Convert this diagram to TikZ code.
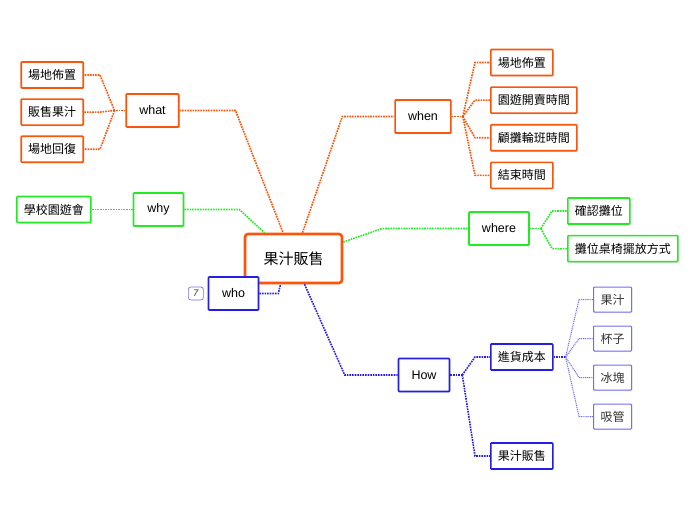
\documentclass[tikz,border=0pt]{standalone}
\usepackage{fontspec}
\setmainfont{Liberation Sans}
\newfontfamily\cjk{Noto Sans CJK TC}
\usetikzlibrary{positioning, calc, shadows}
\definecolor{topicorange}{RGB}{250,85,10}
\definecolor{topicgreen}{RGB}{35,235,35}
\definecolor{topicblue}{RGB}{35,30,225}
\definecolor{subblue}{RGB}{115,110,240}
\tikzset{
    box/.style={draw, fill=white, line width=1.6pt, rounded corners=0.8pt, inner sep=0pt,
        drop shadow={opacity=0.22, shadow xshift=0.8pt, shadow yshift=-1.2pt}},
    obox/.style={draw=topicorange},
    gbox/.style={draw=topicgreen},
    bbox/.style={draw=topicblue},
    root/.style={box, obox, line width=2.6pt, rounded corners=3pt, minimum width=97pt,
        minimum height=49pt, font=\cjk\fontsize{15}{17}\selectfont},
    topic/.style={box, minimum height=33pt, minimum width=50pt, inner xsep=13pt,
        font=\fontsize{12.5}{14}\selectfont},
    leaf/.style={box, minimum height=26pt, inner xsep=7pt, font=\cjk\fontsize{12}{14}\selectfont},
    twig/.style={box, draw=subblue, line width=1pt, minimum height=25pt, inner xsep=7pt,
        text=black!80, font=\cjk\fontsize{12}{14}\selectfont},
    badge/.style={draw=subblue, line width=0.7pt, rounded corners=2.5pt, minimum width=15pt,
        minimum height=13pt, inner sep=0pt, text=black!80, font=\itshape\fontsize{9.5}{10}\selectfont},
    link/.style={line width=1.6pt, dash pattern=on 1.6pt off 1pt},
    thinlink/.style={draw=subblue, line width=1pt, dash pattern=on 1.1pt off 0.8pt},
}

\begin{document}
\begin{tikzpicture}[x=1pt, y=-1pt]
    \useasboundingbox (0,0) rectangle (696,520);

    % central topic
    \node[root] (root) at (293.5,258.5) {果汁販售};

    % what
    \node[topic, obox] (what) at (152.5,110.5) {what};
    \node[leaf, obox, anchor=east] (what1) at (84,75) {場地佈置};
    \node[leaf, obox, below=9.5pt of what1.south east, anchor=north east] (what2) {販售果汁};
    \node[leaf, obox, below=9.5pt of what2.south east, anchor=north east] (what3) {場地回復};

    \draw[link, topicorange] (what.east) -- ++(56,0) -- ([xshift=-10.5pt]root.north);
    \draw[link, topicorange] (what.west) -- ++(-11,0) coordinate (whatfan);
    \foreach \n in {what1,what2,what3}
        \draw[link, topicorange] (whatfan) -- ([xshift=16pt]\n.east) -- (\n.east);

    % why
    \node[topic, gbox] (why) at (158.5,209.5) {why};
    \node[leaf, gbox, left=41pt of why] (why1) {學校園遊會};

    \draw[link, topicgreen] (why.east) -- ++(55,0) -- ([xshift=-29pt]root.north);
    \draw[link, topicgreen] (why.west) -- (why1.east);

    % who
    \node[topic, bbox] (who) at (233.5,293.5) {who};
    \node[badge, left=4pt of who] (whonum) {7};

    \draw[link, topicblue] (who.east) -- ++(19,0) -- ([xshift=-13pt]root.south);

    % when
    \node[topic, obox] (when) at (423,116.5) {when};
    \node[leaf, obox, anchor=west] (when1) at (490,62.5) {場地佈置};
    \node[leaf, obox, below=10pt of when1.south west, anchor=north west] (when2) {園遊開賣時間};
    \node[leaf, obox, below=10pt of when2.south west, anchor=north west] (when3) {顧攤輪班時間};
    \node[leaf, obox, below=10pt of when3.south west, anchor=north west] (when4) {結束時間};

    \draw[link, topicorange] ([xshift=9pt]root.north) -- ([xshift=-52pt]when.west) -- (when.west);
    \draw[link, topicorange] (when.east) -- ++(11,0) coordinate (whenfan);
    \foreach \n in {when1,when2,when3,when4}
        \draw[link, topicorange] (whenfan) -- ([xshift=-15pt]\n.west) -- (\n.west);

    % where
    \node[topic, gbox] (where) at (499,228.5) {where};
    \node[leaf, gbox, anchor=west] (where1) at (567,211) {確認攤位};
    \node[leaf, gbox, below=10pt of where1.south west, anchor=north west] (where2) {攤位桌椅擺放方式};

    \draw[link, topicgreen] ([yshift=16.5pt]root.east) -- ([xshift=-86pt]where.west) -- (where.west);
    \draw[link, topicgreen] (where.east) -- ++(11,0) coordinate (wherefan);
    \foreach \n in {where1,where2}
        \draw[link, topicgreen] (wherefan) -- ([xshift=-15pt]\n.west) -- (\n.west);

    % how
    \node[topic, bbox] (how) at (424,375) {How};
    \node[leaf, bbox, anchor=west] (cost) at (490,357) {進貨成本};
    \node[leaf, bbox, anchor=west] (sell) at (490,456) {果汁販售};
    \node[twig, anchor=west] (cost1) at (593,299.5) {果汁};
    \node[twig, below=13pt of cost1.south west, anchor=north west] (cost2) {杯子};
    \node[twig, below=13pt of cost2.south west, anchor=north west] (cost3) {冰塊};
    \node[twig, below=13pt of cost3.south west, anchor=north west] (cost4) {吸管};

    \draw[link, topicblue] ([xshift=11pt]root.south) -- ([xshift=-53pt]how.west) -- (how.west);
    \draw[link, topicblue] (how.east) -- ++(12,0) coordinate (howfan);
    \foreach \n in {cost,sell}
        \draw[link, topicblue] (howfan) -- ([xshift=-15pt]\n.west) -- (\n.west);
    \draw[link, topicblue] (cost.east) -- ++(12,0) coordinate (costfan);
    \foreach \n in {cost1,cost2,cost3,cost4}
        \draw[thinlink] (costfan) -- ([xshift=-14pt]\n.west) -- (\n.west);
\end{tikzpicture}
\end{document}
